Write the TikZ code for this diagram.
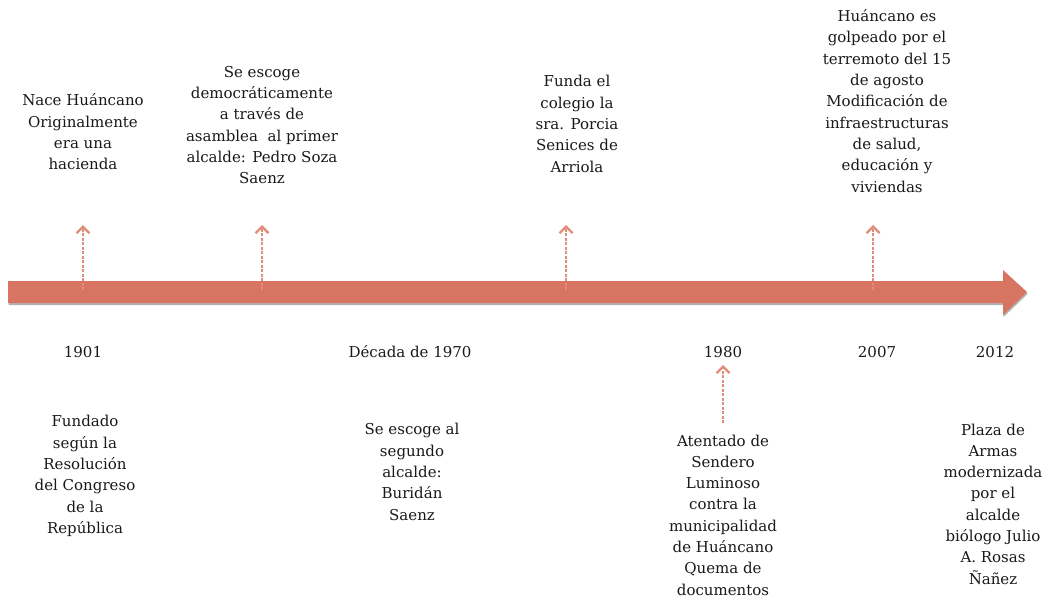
\documentclass[tikz,border=0pt]{standalone}
\usepackage{fontspec}
\setmainfont{DejaVu Serif}
\usetikzlibrary{arrows.meta,shadows}
\definecolor{barred}{HTML}{D87462}
\definecolor{tickred}{HTML}{E08C7A}
\tikzset{
  event/.style={align=center,font=\fontsize{15}{21.3}\selectfont,inner sep=0pt,text=black!90},
  year/.style={font=\fontsize{15}{21}\selectfont,inner sep=0pt,text=black!90},
  tick/.style={draw=tickred,line width=2.3pt,dash pattern=on 3pt off 1.5pt,-{Straight Barb[length=6.5pt,width=13pt,line width=2.3pt]}}
}
\begin{document}
\begin{tikzpicture}[x=1pt,y=-1pt]
\useasboundingbox (0,0) rectangle (1048,602);
% timeline bar
\fill[barred,drop shadow={opacity=0.3,color=black,shadow xshift=0.5pt,shadow yshift=-2pt}] (8,281) -- (1003,281) -- (1003,270) -- (1027,292) -- (1003,315) -- (1003,303) -- (8,303) -- cycle;
% events above
\node[event] (nace) at (83,132) {Nace Huáncano\\Originalmente\\era una\\hacienda};
\node[event] (alcalde1) at (262,125) {Se escoge\\democráticamente\\a través de\\asamblea\ \ al primer\\alcalde: Pedro Soza\\Saenz};
\node[event] (colegio) at (577,124) {Funda el\\colegio la\\sra. Porcia\\Senices de\\Arriola};
\node[event] (terremoto) at (887,101) {Huáncano es\\golpeado por el\\terremoto del 15\\de agosto\\Modificación de\\infraestructuras\\de salud,\\educación y\\viviendas};
% years
\node[year] (y1901) at (83,352) {1901};
\node[year] (y1970) at (410,352) {Década de 1970};
\node[year] (y1980) at (723,352) {1980};
\node[year] (y2007) at (877,352) {2007};
\node[year] (y2012) at (995,352) {2012};
% events below
\node[event] (fundado) at (85,476) {Fundado\\según la\\Resolución\\del Congreso\\de la\\República};
\node[event] (alcalde2) at (412,472) {Se escoge al\\segundo\\alcalde:\\Buridán\\Saenz};
\node[event] (atentado) at (723,515) {Atentado de\\Sendero\\Luminoso\\contra la\\municipalidad\\de Huáncano\\Quema de\\documentos};
\node[event] (plaza) at (993,504) {Plaza de\\Armas\\modernizada\\por el\\alcalde\\biólogo Julio\\A. Rosas\\Ñañez};
% tick arrows
\coordinate (t1b) at (83,290);  \coordinate (t1) at (83,225);
\coordinate (t2b) at (262,290); \coordinate (t2) at (262,225);
\coordinate (t3b) at (566,290); \coordinate (t3) at (566,225);
\coordinate (t4b) at (873,290); \coordinate (t4) at (873,225);
\coordinate (t5b) at (723,423); \coordinate (t5) at (723,365);
\draw[tick] (t1b) -- (t1);
\draw[tick] (t2b) -- (t2);
\draw[tick] (t3b) -- (t3);
\draw[tick] (t4b) -- (t4);
\draw[tick] (t5b) -- (t5);
\end{tikzpicture}
\end{document}
